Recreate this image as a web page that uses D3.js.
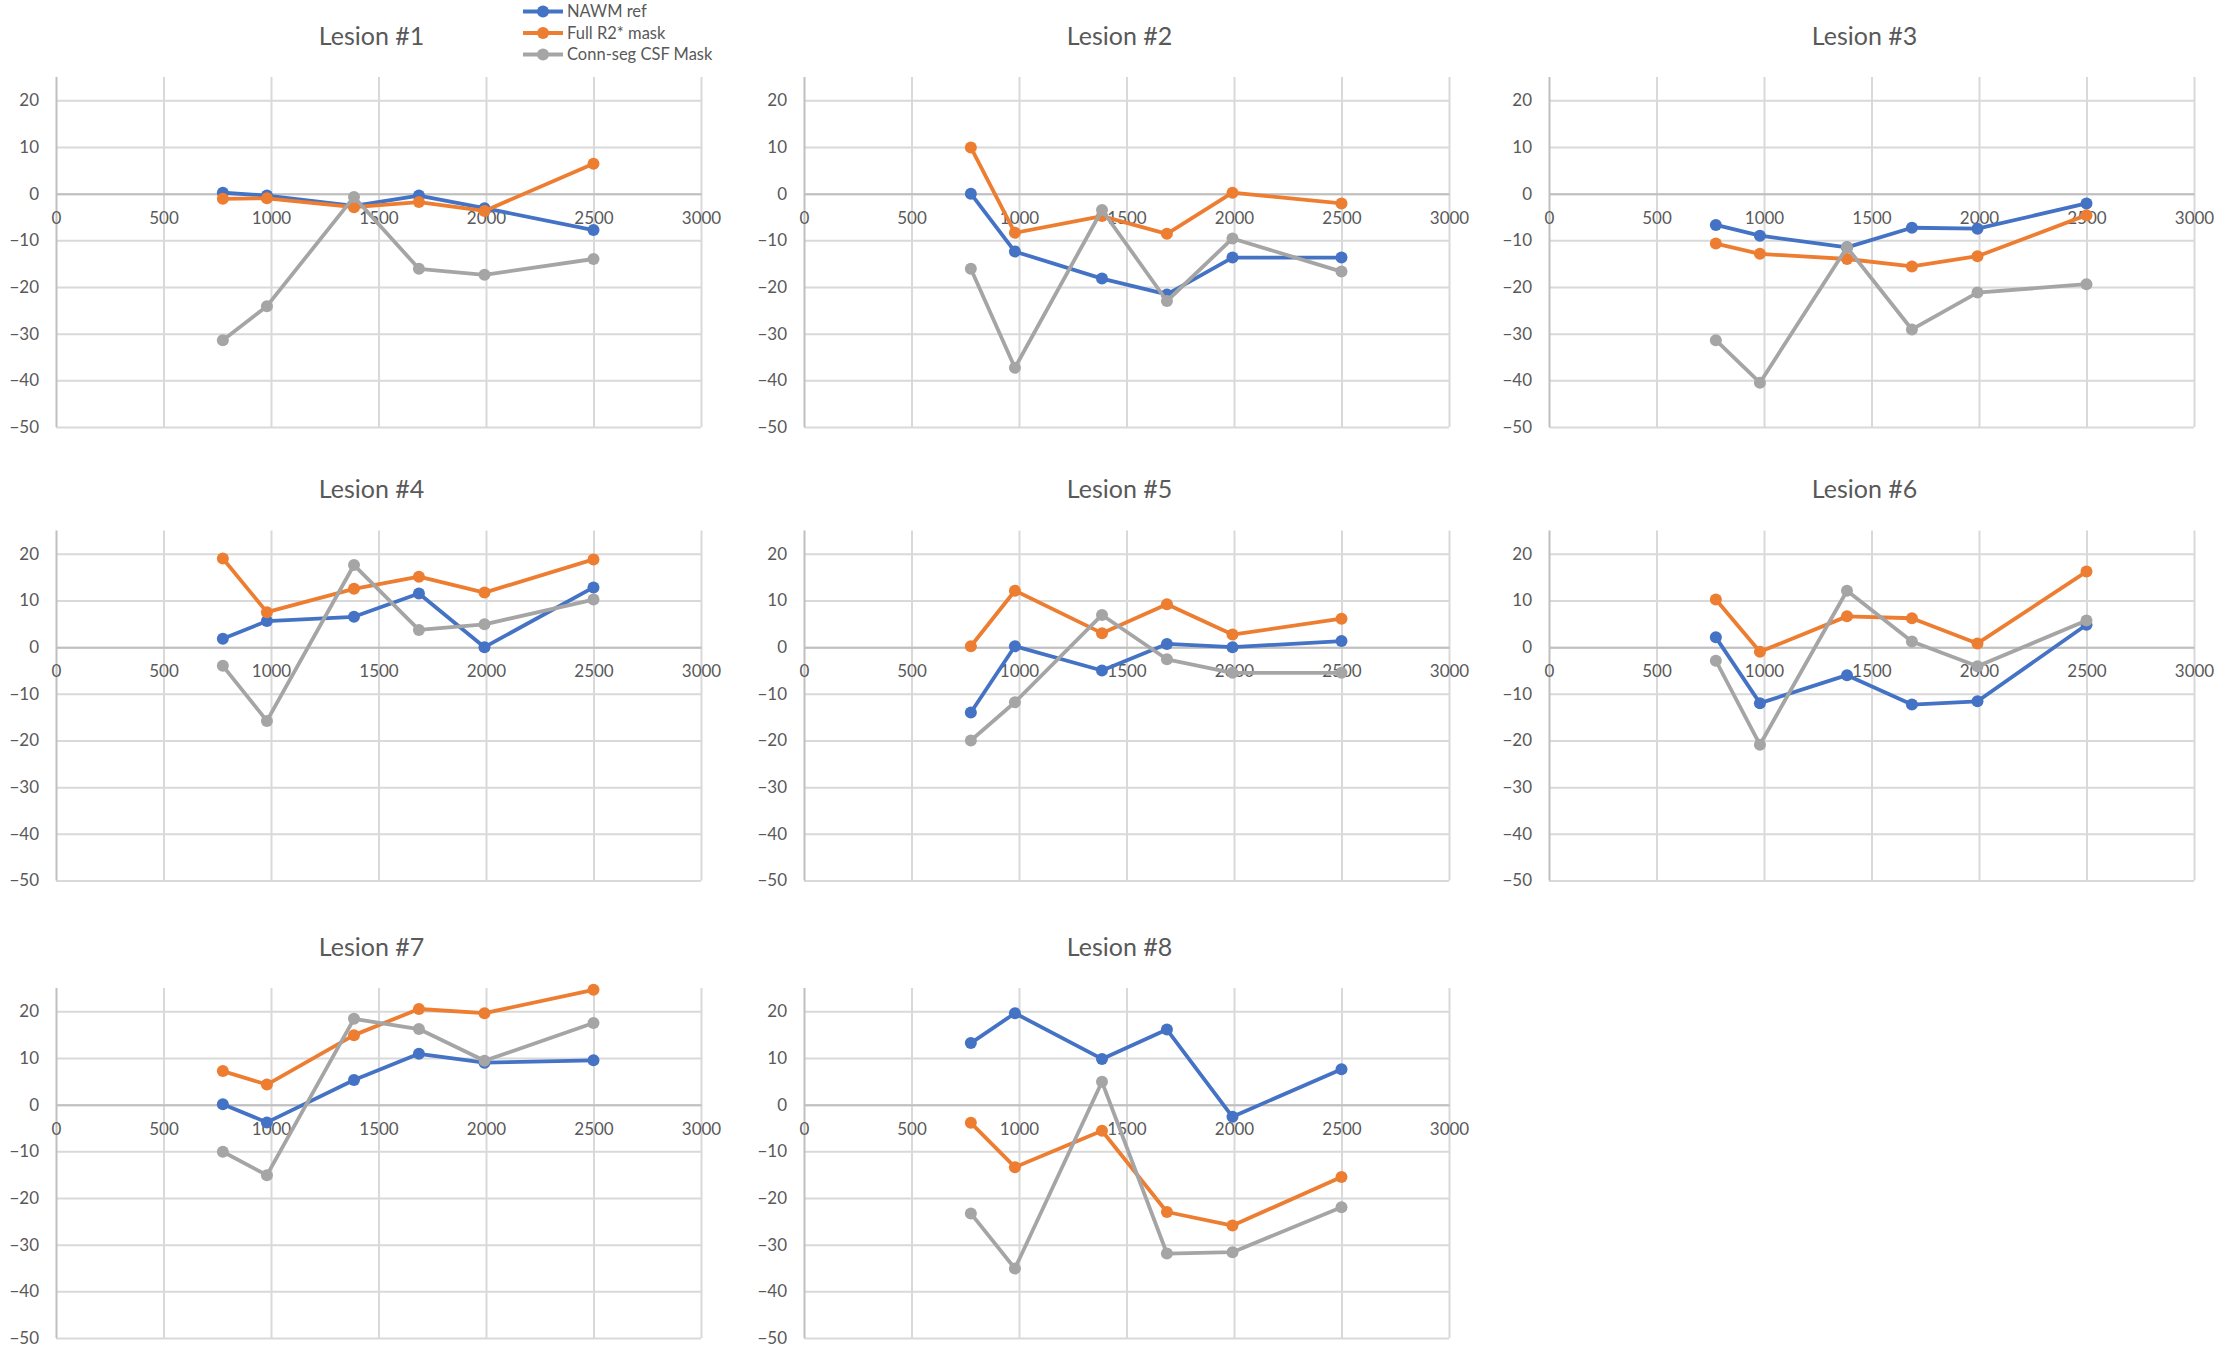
<!DOCTYPE html>
<html>
<head>
<meta charset="utf-8">
<script src="https://cdn.jsdelivr.net/npm/d3@7"></script>
<style>
  body { margin: 0; background: #fff; }
  svg text { font-family: Lato, 'Noto Sans', sans-serif; fill: #595959; font-weight: 400; }
</style>
</head>
<body>
<div id="graph"></div>
<script>
const echoTimes = [776, 981, 1386, 1688, 1993, 2500];
const lesionNames = ['Lesion #1', 'Lesion #2', 'Lesion #3', 'Lesion #4', 'Lesion #5', 'Lesion #6', 'Lesion #7', 'Lesion #8'];
const seriesNames = ['NAWM ref', 'Full R2* mask', 'Conn-seg CSF Mask'];
const seriesColors = ['#4472c4', '#ed7d31', '#a5a5a5'];
const xTicks = [0, 500, 1000, 1500, 2000, 2500, 3000];
const yTicks = [-50, -40, -30, -20, -10, 0, 10, 20];

// one row per lesion
const nawmRef = [
  [0.2, -0.4, -2.6, -0.4, -3.1, -7.8],
  [0, -12.4, -18.2, -21.6, -13.7, -13.7],
  [-6.7, -9.0, -11.5, -7.3, -7.5, -2.1],
  [1.8, 5.6, 6.5, 11.5, 0, 12.8],
  [-14.0, 0.2, -5.0, 0.7, 0, 1.3],
  [2.1, -12.0, -6.0, -12.3, -11.6, 4.8],
  [0.1, -3.8, 5.3, 10.9, 9.0, 9.5],
  [13.2, 19.6, 9.8, 16.1, -2.6, 7.6]
];
const fullR2Mask = [
  [-1.1, -1.0, -2.9, -1.8, -3.7, 6.4],
  [9.9, -8.4, -4.8, -8.6, 0.2, -2.1],
  [-10.7, -12.9, -14.0, -15.6, -13.4, -4.6],
  [19.0, 7.5, 12.5, 15.1, 11.7, 18.8],
  [0.2, 12.1, 3.0, 9.2, 2.7, 6.1],
  [10.2, -1.0, 6.6, 6.2, 0.8, 16.2],
  [7.2, 4.3, 14.9, 20.5, 19.6, 24.6],
  [-3.9, -13.4, -5.6, -23.0, -25.9, -15.5]
];
const connSegCsf = [
  [-31.4, -24.1, -0.7, -16.1, -17.4, -14.0],
  [-16.1, -37.3, -3.5, -23.0, -9.6, -16.7],
  [-31.4, -40.5, -11.5, -29.1, -21.2, -19.4],
  [-4.0, -15.8, 17.6, 3.7, 4.9, 10.2],
  [-20.0, -11.8, 6.9, -2.6, -5.5, -5.5],
  [-2.9, -20.9, 12.1, 1.2, -4.1, 5.7],
  [-10.1, -15.1, 18.4, 16.2, 9.4, 17.5],
  [-23.3, -35.1, 4.9, -31.9, -31.6, -22.0]
];

const W = 2238, H = 1361;
const plotW = 645, plotH = 350;
const colX = [56, 804, 1549];
const rowY = [77, 530.5, 988];

const svg = d3.select('#graph')
  .append('svg')
  .attr('width', W)
  .attr('height', H);

const x = d3.scaleLinear().domain([0, 3000]).range([0, plotW]);
const y = d3.scaleLinear().domain([-50, 25]).range([plotH, 0]);

const line = d3.line()
  .x((d, i) => x(echoTimes[i]))
  .y(d => y(d));

lesionNames.forEach((name, k) => {
  const g = svg.append('g')
    .attr('transform', `translate(${colX[k % 3]},${rowY[Math.floor(k / 3)]})`);

  g.append('text')
    .attr('x', plotW / 2 - 7)
    .attr('y', -41)
    .attr('dy', '0.35em')
    .attr('text-anchor', 'middle')
    .style('font-size', '25px')
    .text(name);

  // grid
  g.append('g')
    .call(d3.axisLeft(y).tickValues(yTicks).tickSize(-plotW).tickFormat(''))
    .call(a => a.select('.domain').remove())
    .call(a => a.selectAll('line').attr('stroke', '#d9d9d9').attr('stroke-width', 2));

  g.append('g')
    .attr('transform', `translate(0,${plotH})`)
    .call(d3.axisBottom(x).tickValues(xTicks).tickSize(plotH).tickFormat(''))
    .call(a => a.select('.domain').remove())
    .call(a => a.selectAll('line').attr('y2', -plotH).attr('stroke', (d) => d === 0 ? '#bfbfbf' : '#d9d9d9').attr('stroke-width', 2));

  // y labels
  g.append('g')
    .call(d3.axisLeft(y).tickValues(yTicks).tickSize(0).tickPadding(17).tickFormat(d3.format('d')))
    .call(a => a.select('.domain').remove())
    .call(a => a.selectAll('text').style('font-size', '17px').attr('fill', '#595959'));

  // x axis at zero
  g.append('g')
    .attr('transform', `translate(0,${y(0)})`)
    .call(d3.axisBottom(x).tickValues(xTicks).tickSize(0).tickPadding(18).tickFormat(d3.format('d')))
    .call(a => a.select('.domain').attr('stroke', '#bfbfbf').attr('stroke-width', 2))
    .call(a => a.selectAll('text').style('font-size', '17px').attr('fill', '#595959'));

  [nawmRef, fullR2Mask, connSegCsf].forEach((series, s) => {
    const vals = series[k];
    g.append('path')
      .datum(vals)
      .attr('d', line)
      .attr('fill', 'none')
      .attr('stroke', seriesColors[s])
      .attr('stroke-width', 3.8)
      .attr('stroke-linejoin', 'round');

    g.selectAll('.dot' + s)
      .data(vals)
      .enter()
      .append('circle')
      .attr('class', 'dot' + s)
      .attr('cx', (d, i) => x(echoTimes[i]))
      .attr('cy', d => y(d))
      .attr('r', 6)
      .attr('fill', seriesColors[s]);
  });
});

// legend
const legend = svg.append('g')
  .attr('transform', 'translate(523,11.5)');

seriesNames.forEach((name, i) => {
  const item = legend.append('g')
    .attr('transform', `translate(0,${i * 21.5})`);
  item.append('line')
    .attr('x1', 0).attr('x2', 40)
    .attr('stroke', seriesColors[i])
    .attr('stroke-width', 3.8);
  item.append('circle')
    .attr('cx', 20)
    .attr('r', 6)
    .attr('fill', seriesColors[i]);
  item.append('text')
    .attr('x', 44)
    .attr('dy', '0.35em')
    .style('font-size', '16.5px')
    .text(name);
});
</script>
</body>
</html>
